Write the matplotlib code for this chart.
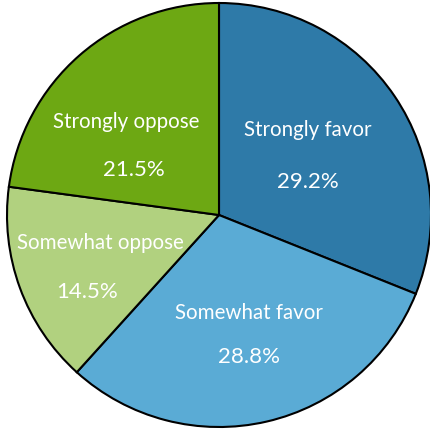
import matplotlib.pyplot as plt

labels = ["Strongly favor", "Somewhat favor", "Somewhat oppose", "Strongly oppose"]
shares = [29.2, 28.8, 14.5, 21.5]
colors = ["#2e7aa8", "#5aabd5", "#b1d17f", "#6da813"]

# label anchor points (axes-data coords) for each wedge's two text lines
name_pos = [(0.42, 0.40), (0.14, -0.46), (-0.56, -0.13), (-0.44, 0.44)]
pct_pos = [(0.42, 0.155), (0.14, -0.67), (-0.62, -0.365), (-0.40, 0.21)]

plt.rcParams['font.family'] = ['Lato', 'DejaVu Sans']

fig = plt.figure(figsize=(4.31, 4.30), dpi=100)
ax = fig.add_axes([0, 0, 1, 1])

# matplotlib normalises the shares (they add to 94)
ax.pie(shares, colors=colors, startangle=90, counterclock=False,
       wedgeprops=dict(edgecolor="black", linewidth=1.5))

for lab, v, p1, p2 in zip(labels, shares, name_pos, pct_pos):
    ax.text(p1[0], p1[1], lab, ha="center", va="center", color="white", fontsize=14.8)
    ax.text(p2[0], p2[1], "%.1f%%" % v, ha="center", va="center", color="white", fontsize=16)

ax.set_xlim(-219 / 212, 212 / 212)
ax.set_ylim(-215 / 212, 215 / 212)
ax.set_aspect("equal")
ax.axis("off")

fig.savefig("out.png", dpi=100)
